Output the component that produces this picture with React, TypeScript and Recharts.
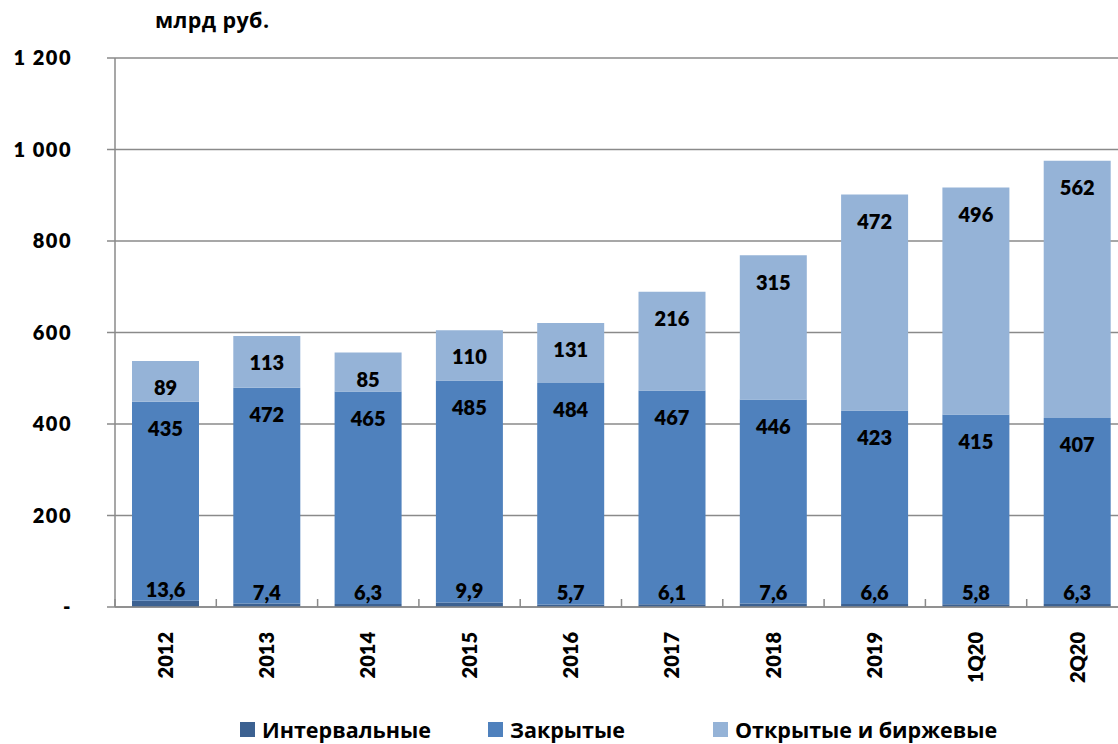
import { BarChart, Bar, XAxis, YAxis, CartesianGrid, Legend, LabelList } from "recharts";

const categories = ["2012", "2013", "2014", "2015", "2016", "2017", "2018", "2019", "1Q20", "2Q20"];
const intervalValues = [13.6, 7.4, 6.3, 9.9, 5.7, 6.1, 7.6, 6.6, 5.8, 6.3];
const closedValues = [435, 472, 465, 485, 484, 467, 446, 423, 415, 407];
const openValues = [89, 113, 85, 110, 131, 216, 315, 472, 496, 562];
const yTicks = [0, 200, 400, 600, 800, 1000, 1200];

const seriesInfo = [
  { key: "interval", name: "Интервальные", color: "#3C6191" },
  { key: "closed", name: "Закрытые", color: "#4F81BD" },
  { key: "open", name: "Открытые и биржевые", color: "#95B3D7" },
];

const data = categories.map((period, i) => ({
  period,
  interval: intervalValues[i],
  closed: closedValues[i],
  open: openValues[i],
}));

const NUM_FONT = "Lato, 'Open Sans', sans-serif";
const TEXT_FONT = "'Open Sans', 'Noto Sans', sans-serif";
const NUM_WEIGHT = 800;
const CHART_W = 1128;
const CHART_H = 744;
const Y_AXIS_W = 115;
const BAND = (CHART_W - Y_AXIS_W) / categories.length;
const GRID = "#8a8a8a";

// thousands separated by a space, zero shown as a dash
const formatY = (v: number) => {
  if (v === 0) return "-";
  if (v >= 1000) return `${Math.floor(v / 1000)} ${String(v % 1000).padStart(3, "0")}`;
  return String(v);
};

const labelStyle = { fontFamily: NUM_FONT, fontWeight: NUM_WEIGHT, fontSize: 20, fill: "#000" };

const YTick = (props: any) => {
  const { x, y, payload } = props;
  return (
    <text
      x={x + 1}
      y={y}
      dy="0.36em"
      textAnchor="end"
      fontFamily={NUM_FONT}
      fontWeight={NUM_WEIGHT}
      fontSize={20}
      letterSpacing={1.5}
      fill="#000"
    >
      {formatY(payload.value)}
    </text>
  );
};

const XTick = (props: any) => {
  const { x, y, payload } = props;
  const bx = x - BAND / 2;
  return (
    <g>
      <line x1={bx} y1={y} x2={bx} y2={y - 8} stroke={GRID} strokeWidth={1.5} />
      <text
        x={x}
        y={y + 25}
        transform={`rotate(-90, ${x}, ${y + 25})`}
        textAnchor="end"
        dy="0.36em"
        fontFamily={NUM_FONT}
        fontWeight={NUM_WEIGHT}
        fontSize={20}
        fill="#000"
      >
        {payload.value}
      </text>
    </g>
  );
};

const itemWidths = [248, 225, 300];

const LegendContent = () => (
  <div style={{ display: "flex", paddingLeft: 240, fontFamily: TEXT_FONT, fontWeight: 700, fontSize: 21.5, lineHeight: "27px" }}>
    {seriesInfo.map((s, i) => (
      <div key={s.key} style={{ display: "flex", alignItems: "center", width: itemWidths[i] }}>
        <span style={{ display: "inline-block", width: 15, height: 15, background: s.color, marginRight: 7 }} />
        <span>{s.name}</span>
      </div>
    ))}
  </div>
);

export default function App() {
  return (
    <div style={{ position: "absolute", left: 0, top: 0, width: 1118, height: 744, overflow: "hidden", background: "#fff" }}>
      <div
        style={{
          position: "absolute",
          left: 155,
          top: 7,
          fontFamily: TEXT_FONT,
          fontWeight: 700,
          fontSize: 21.5,
          lineHeight: "26px",
          letterSpacing: 0.4,
        }}
      >
        млрд руб.
      </div>
      <BarChart
        width={CHART_W}
        height={CHART_H}
        data={data}
        barSize={67}
        margin={{ top: 58, right: 0, left: 0, bottom: 48 }}
      >
        <CartesianGrid vertical={false} stroke={GRID} strokeWidth={1.5} />
        <XAxis
          dataKey="period"
          interval={0}
          height={89}
          tickLine={false}
          tickSize={0}
          tickMargin={0}
          axisLine={{ stroke: GRID, strokeWidth: 1.5 }}
          tick={<XTick />}
        />
        <YAxis
          width={Y_AXIS_W}
          domain={[0, 1200]}
          ticks={yTicks}
          interval={0}
          tickSize={8}
          tickMargin={36}
          tickLine={{ stroke: GRID, strokeWidth: 1.5 }}
          axisLine={{ stroke: GRID, strokeWidth: 1.5 }}
          tick={<YTick />}
        />
        <Legend
          layout="horizontal"
          verticalAlign="middle"
          align="center"
          wrapperStyle={{ top: 716, left: 0, width: 1118 }}
          content={<LegendContent />}
        />
        <Bar dataKey="interval" name="Интервальные" stackId="a" fill={seriesInfo[0].color} isAnimationActive={false}>
          <LabelList
            dataKey="interval"
            position="top"
            offset={4}
            formatter={(v: any) => String(v).replace(".", ",")}
            style={labelStyle}
          />
        </Bar>
        <Bar dataKey="closed" name="Закрытые" stackId="a" fill={seriesInfo[1].color} isAnimationActive={false}>
          <LabelList dataKey="closed" position="insideTop" offset={20} style={labelStyle} />
        </Bar>
        <Bar dataKey="open" name="Открытые и биржевые" stackId="a" fill={seriesInfo[2].color} isAnimationActive={false}>
          <LabelList dataKey="open" position="insideTop" offset={20} style={labelStyle} />
        </Bar>
      </BarChart>
    </div>
  );
}
